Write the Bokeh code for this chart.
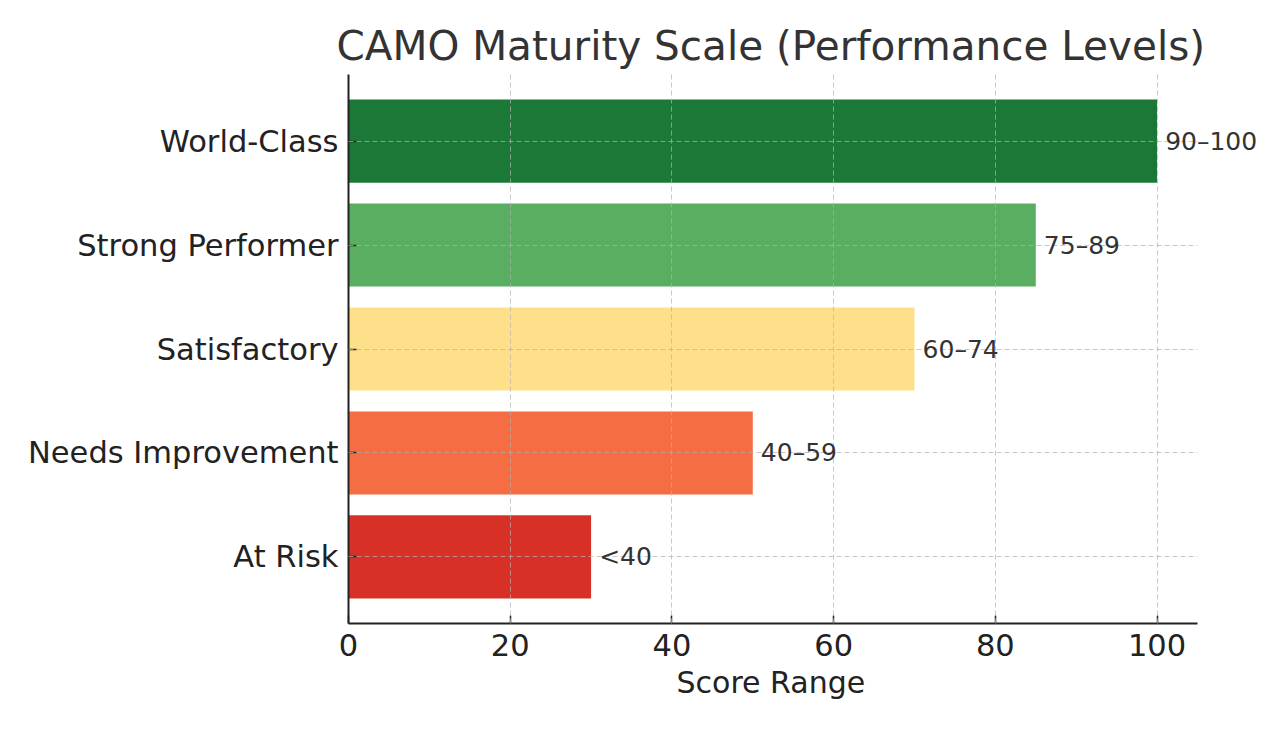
from bokeh.plotting import figure
from bokeh.models import ColumnDataSource, Range1d, FixedTicker, Label, Title
from bokeh.embed import file_html
from bokeh.resources import INLINE

categories = ["At Risk", "Needs Improvement", "Satisfactory", "Strong Performer", "World-Class"]
scores = [30, 50, 70, 85, 100]
range_labels = ["<40", "40–59", "60–74", "75–89", "90–100"]
colors = ["#d73027", "#f46d43", "#fee08b", "#5aae61", "#1b7837"]
x_ticks = [0, 20, 40, 60, 80, 100]

FONT = "DejaVu Sans"
X_MAX = 105
FRAME_W = 849          # frame width matching 0..X_MAX
EXTRA_W = 924          # actual frame width (room for bar labels)

ypos = list(range(len(categories)))
src = ColumnDataSource(dict(y=ypos, score=scores, color=colors))

p = figure(width=348 + EXTRA_W, height=715, output_backend="svg", toolbar_location=None,
           x_range=Range1d(0, X_MAX * EXTRA_W / FRAME_W),
           y_range=Range1d(-0.64, len(categories) - 1 + 0.64),
           min_border_left=348, min_border_right=0, min_border_top=74, min_border_bottom=92,
           title="CAMO Maturity Scale (Performance Levels)")

p.hbar(y="y", right="score", left=0, height=0.8, color="color", line_color=None, source=src)

for yv, s, lab in zip(ypos, scores, range_labels):
    p.add_layout(Label(x=s + 1, y=yv, text=lab, text_font=FONT, text_font_size="25px",
                       text_color="#333333", text_baseline="middle", text_align="left",
                       level="overlay"))

p.title.text_font = FONT
p.title.text_font_size = "40.5px"
p.title.text_font_style = "normal"
p.title.text_color = "#333333"
p.title.align = "left"
p.title.offset = 336 - 348

xlabel = Title(text="Score Range", align="left", offset=676 - 348, text_font=FONT,
               text_font_size="30px", text_font_style="normal", text_color="#222222",
               standoff=9)
p.add_layout(xlabel, "below")

p.outline_line_color = None

for g in (p.xgrid, p.ygrid):
    g.grid_line_color = "#b0b0b0"
    g.grid_line_alpha = 0.7
    g.grid_line_dash = "5 3"
    g.grid_line_width = 1
    g.level = "guide"
p.ygrid.cross_bounds = (0, X_MAX)

p.xaxis.ticker = FixedTicker(ticks=x_ticks)
p.xaxis.bounds = (0, X_MAX)
p.yaxis.ticker = FixedTicker(ticks=ypos)
p.yaxis.major_label_overrides = {i: c for i, c in enumerate(categories)}

for ax in (p.xaxis, p.yaxis):
    ax.axis_line_width = 2
    ax.axis_line_color = "#222222"
    ax.major_tick_in = 8
    ax.major_tick_out = 0
    ax.major_tick_line_width = 1.5
    ax.major_tick_line_color = "#222222"
    ax.minor_tick_line_color = None
    ax.major_label_text_font = FONT
    ax.major_label_text_font_size = "30.5px"
    ax.major_label_text_color = "#222222"
    ax.major_label_standoff = 10

open("out.html", "w").write(file_html(p, INLINE))
